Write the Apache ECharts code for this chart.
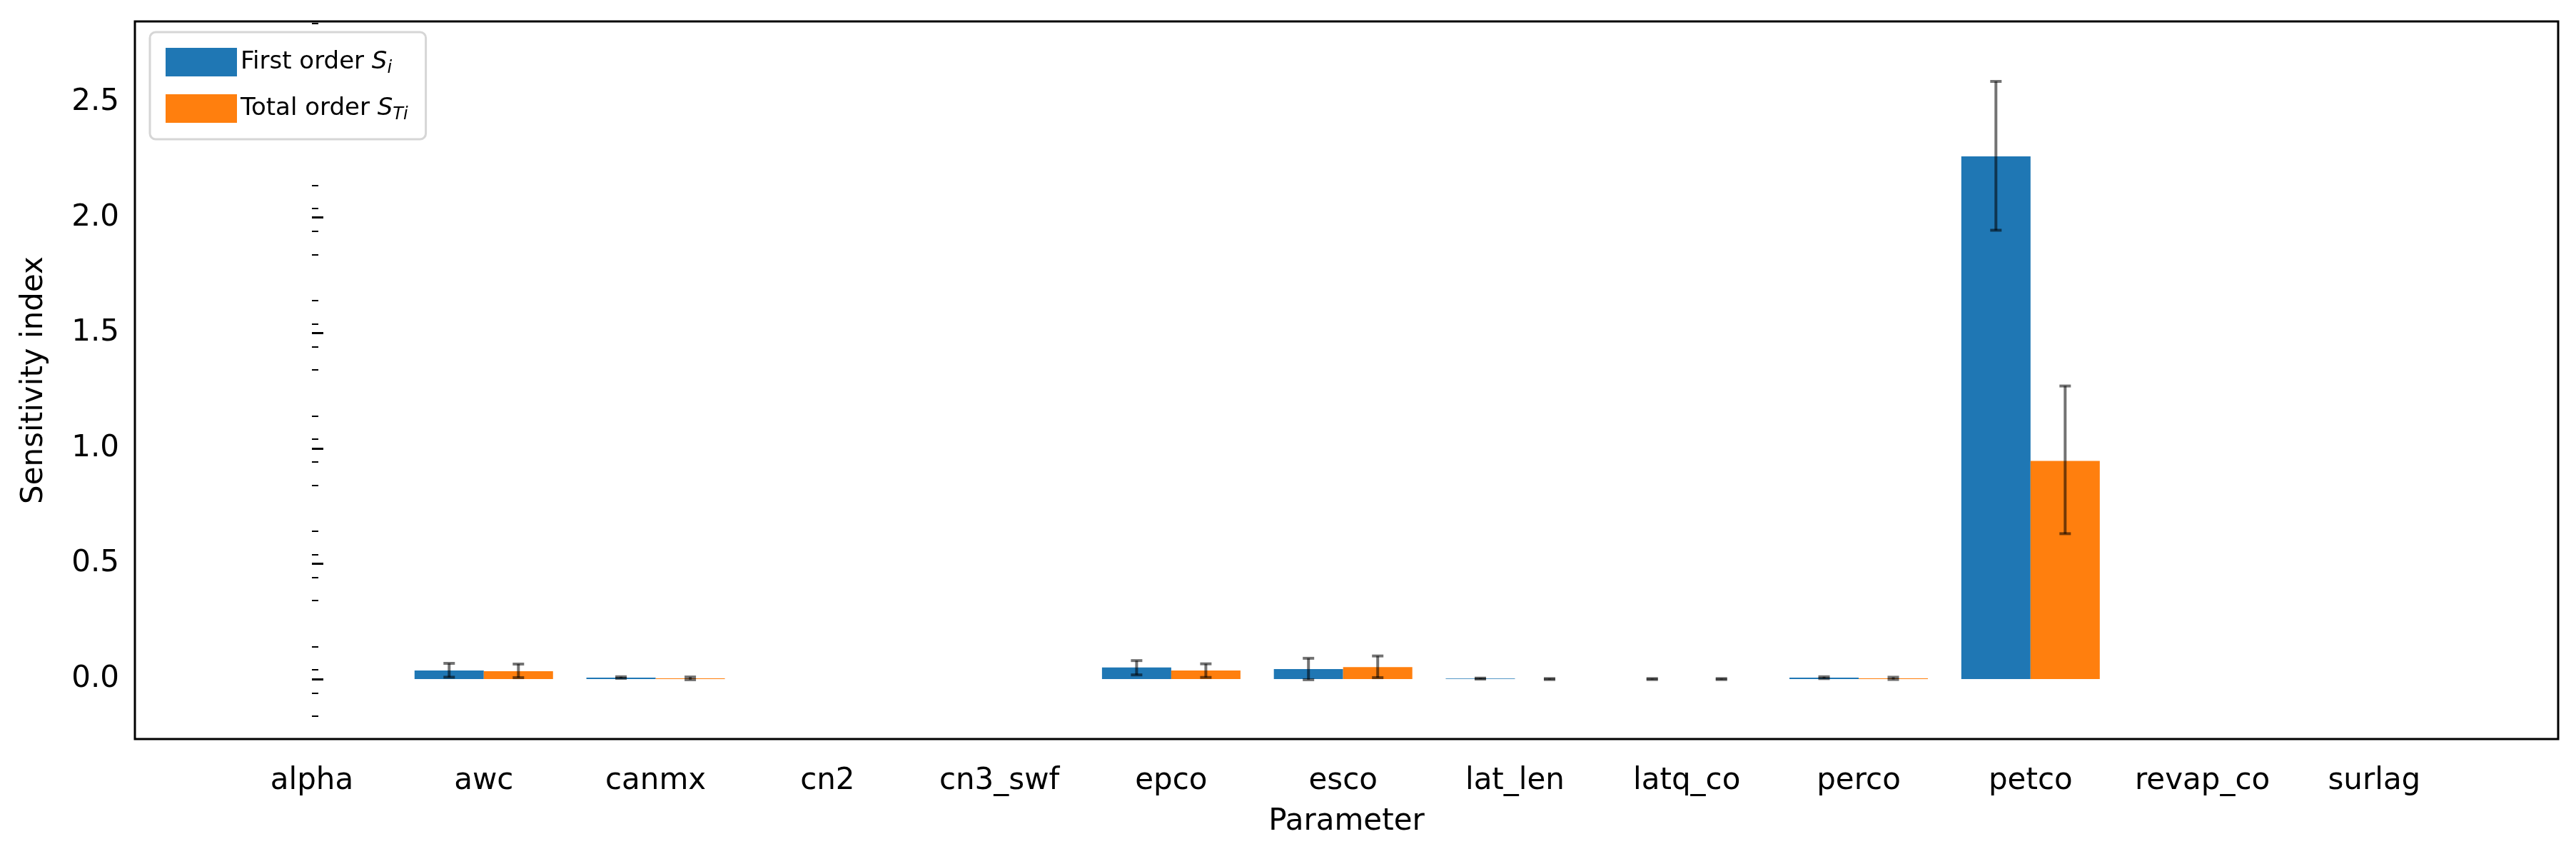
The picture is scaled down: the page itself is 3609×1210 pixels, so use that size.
<!DOCTYPE html>
<html><head><meta charset="utf-8">
<script src="https://cdn.jsdelivr.net/npm/echarts@6/dist/echarts.min.js"></script>
<style>html,body{margin:0;padding:0;background:#fff}#c{width:3609px;height:1210px}</style>
</head><body><div id="c"></div>
<script>
const categories=['alpha','awc','canmx','cn2','cn3_swf','epco','esco','lat_len','latq_co','perco','petco','revap_co','surlag'];
const firstOrder=[null,0.037,0.006,null,null,0.050,0.043,0.002,0.0,0.006,2.265,null,null];
const firstLow=[null,0.008,0.003,null,null,0.018,-0.003,0.0,-0.002,0.002,1.945,null,null];
const firstHigh=[null,0.068,0.010,null,null,0.080,0.090,0.004,0.002,0.010,2.590,null,null];
const totalOrder=[null,0.034,0.003,null,null,0.037,0.052,0.0,0.0,0.003,0.945,null,null];
const totalLow=[null,0.006,-0.003,null,null,0.007,0.006,-0.002,-0.002,-0.002,0.630,null,null];
const totalHigh=[null,0.065,0.009,null,null,0.066,0.100,0.002,0.002,0.008,1.270,null,null];
const yTicks=[0,0.5,1.0,1.5,2.0,2.5];

const chart=echarts.init(document.getElementById('c'));
const font='DejaVu Sans';
const BW=97;
function errSeries(low,high,offset){
  return {type:'custom',z:10,silent:true,
    data:categories.map((c,i)=>low[i]==null?null:[i,low[i],high[i]]).filter(d=>d),
    renderItem:function(params,api){
      const i=api.value(0);
      const p1=api.coord([i,api.value(1)]);
      const p2=api.coord([i,api.value(2)]);
      const x=p1[0]+offset;
      const st={stroke:'rgba(0,0,0,0.55)',lineWidth:4};
      return {type:'group',children:[
        {type:'line',shape:{x1:x,y1:p1[1],x2:x,y2:p2[1]},style:st},
        {type:'line',shape:{x1:x-8,y1:p1[1],x2:x+8,y2:p1[1]},style:st},
        {type:'line',shape:{x1:x-8,y1:p2[1],x2:x+8,y2:p2[1]},style:st}
      ]};
    }};
}
chart.setOption({
  animation:false,
  textStyle:{fontFamily:font},
  grid:{left:189,right:25,top:30,bottom:175,show:true,borderColor:'#000',borderWidth:3,containLabel:false},
  legend:{left:210,top:45,orient:'vertical',itemWidth:100,itemHeight:40,itemGap:24,icon:'rect',
    backgroundColor:'#fff',borderColor:'#d6d6d6',borderWidth:3,borderRadius:8,padding:[22,25,22,22],
    data:['First order','Total order'],
    formatter:function(n){return n==='First order'?'{a|First order }{b|S}{c|i}':'{a|Total order }{b|S}{c|Ti}';},
    textStyle:{rich:{a:{fontSize:34,fontFamily:font,color:'#000'},b:{fontSize:34,fontStyle:'italic',fontFamily:font,color:'#000'},c:{fontSize:24,fontStyle:'italic',fontFamily:font,color:'#000',verticalAlign:'bottom',padding:[18,0,0,0]}}}},
  xAxis:{type:'value',min:-1.03,max:13.07,
    name:'Parameter',nameLocation:'middle',nameGap:95,nameTextStyle:{fontSize:42,color:'#000',fontFamily:font},
    splitLine:{show:false},axisLine:{show:false},axisTick:{show:false},
    axisLabel:{fontSize:42,color:'#000',margin:38,fontFamily:font,customValues:categories.map((c,i)=>i),formatter:v=>categories[Math.round(v)]}},
  yAxis:{type:'value',min:-0.26,max:2.85,
    name:'Sensitivity index',nameLocation:'middle',nameGap:120,nameTextStyle:{fontSize:42,color:'#000',fontFamily:font},
    splitLine:{show:false},
    axisLine:{show:false},
    axisTick:{show:true,inside:true,length:16,lineStyle:{color:'#000',width:3},customValues:yTicks},
    minorTick:{show:true,splitNumber:5,length:9,lineStyle:{color:'#000',width:2}},
    interval:0.5,
    axisLabel:{fontSize:42,color:'#000',margin:22,fontFamily:font,customValues:yTicks,formatter:v=>v.toFixed(1)}},
  series:[
    {name:'First order',type:'bar',data:firstOrder.map((v,i)=>[i,v]),barWidth:BW,barGap:'0%',itemStyle:{color:'#1f77b4'}},
    {name:'Total order',type:'bar',data:totalOrder.map((v,i)=>[i,v]),barWidth:BW,barGap:'0%',itemStyle:{color:'#ff7f0e'}},
    errSeries(firstLow,firstHigh,-BW/2),
    errSeries(totalLow,totalHigh,BW/2)
  ]
});
</script></body></html>
